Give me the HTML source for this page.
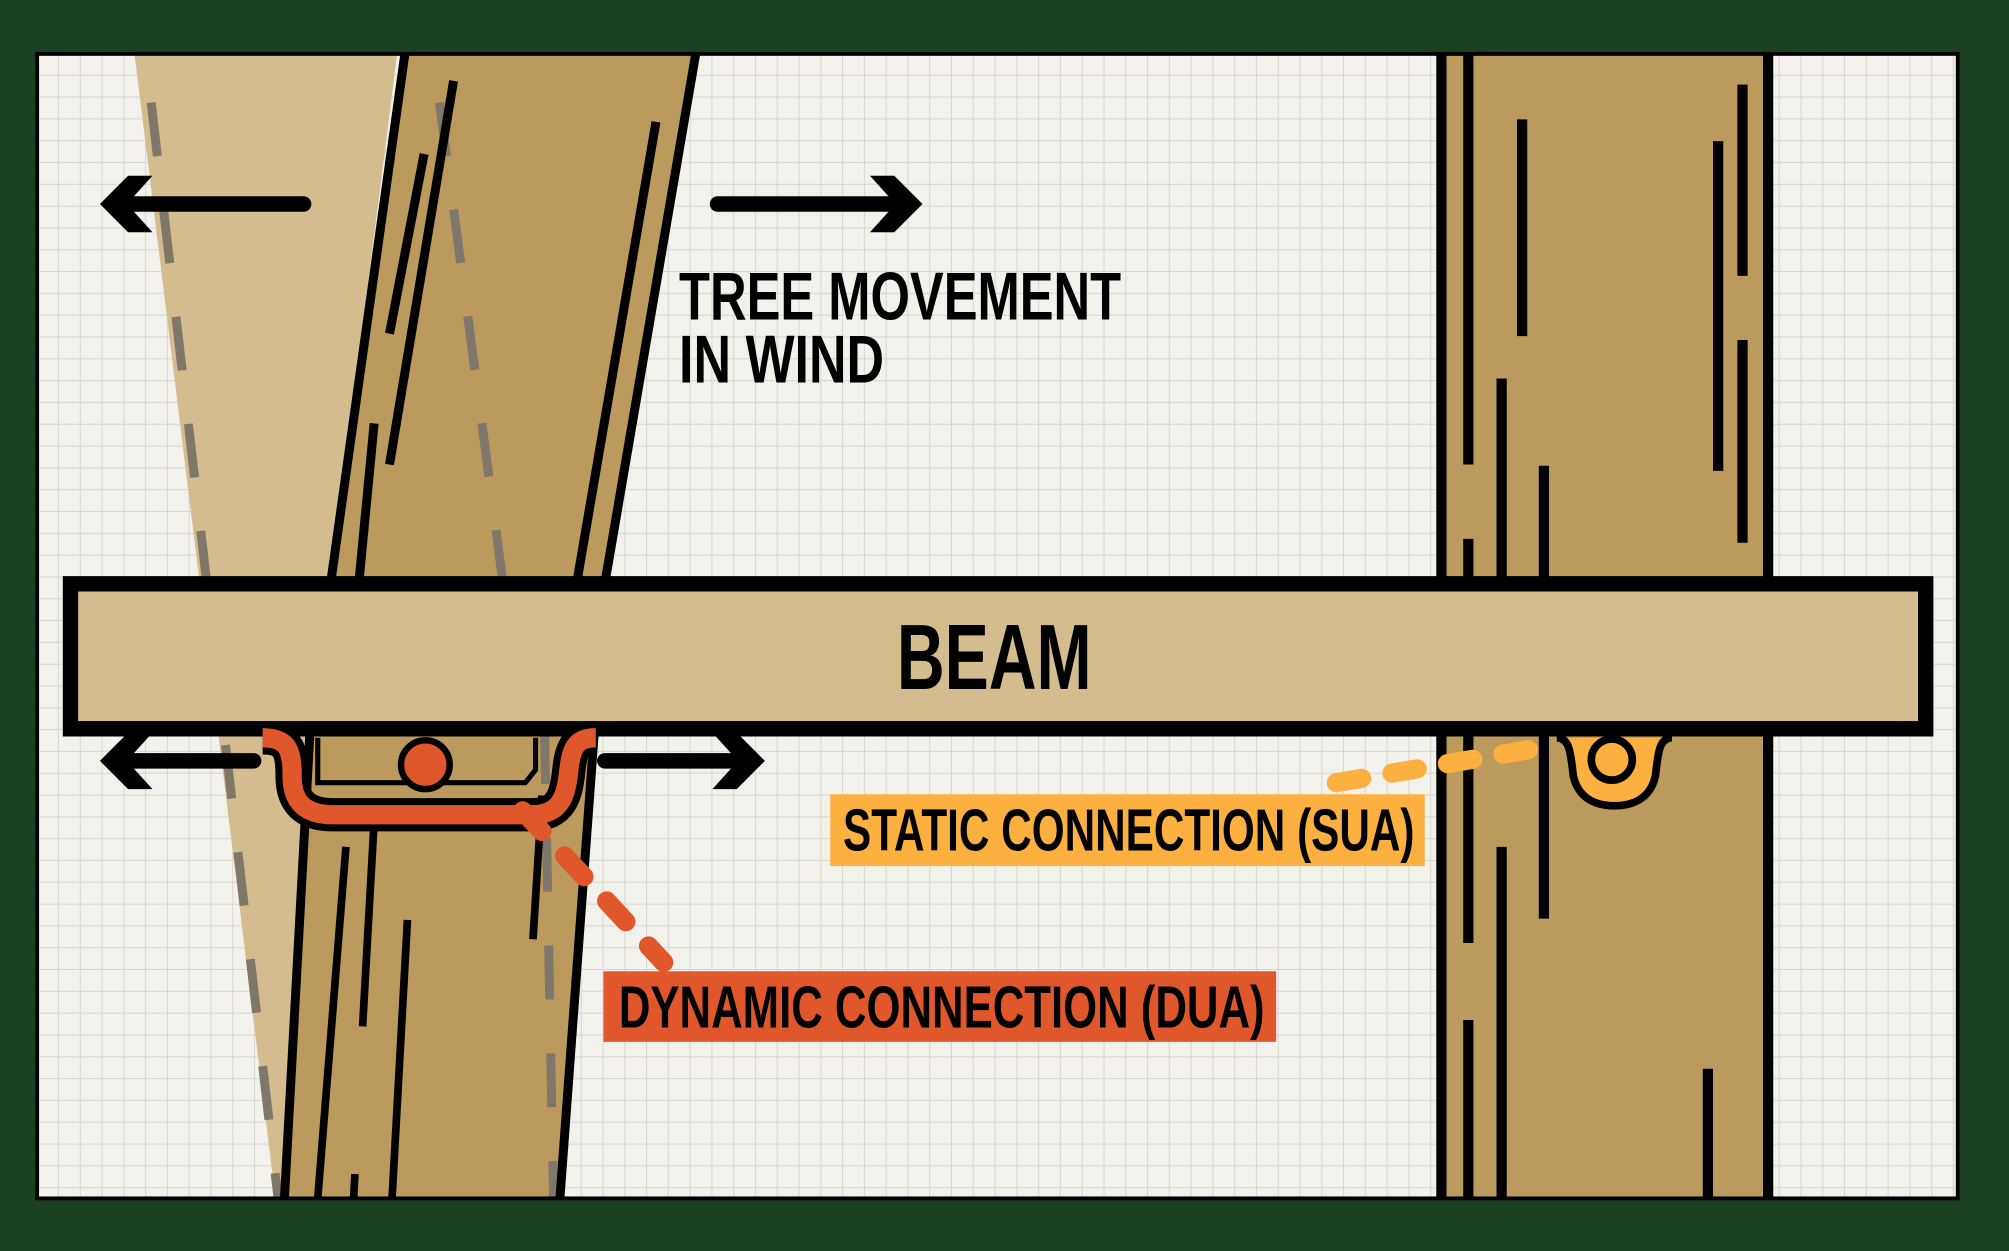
<!DOCTYPE html>
<html><head><meta charset="utf-8"><style>
html,body{margin:0;padding:0;background:#1b4122;}
svg{display:block;}
text{font-family:"Liberation Sans Narrow","Liberation Sans",sans-serif;font-weight:bold;fill:#000;}
</style></head><body>
<svg width="2009" height="1251" viewBox="0 0 1568 975" preserveAspectRatio="none" xmlns="http://www.w3.org/2000/svg">
<defs>
<pattern id="g" width="17" height="17" patternUnits="userSpaceOnUse" x="29" y="42">
<path d="M17 0V17M0 17H17" stroke="#d2d1ca" stroke-width="1.3" fill="none"/>
</pattern>
<clipPath id="c"><rect x="30" y="43" width="1497" height="890"/></clipPath>
</defs>
<rect width="1568" height="975" fill="#1b4122"/>
<rect x="29" y="42" width="1499" height="892" fill="#f2f1ec"/>
<rect x="29" y="42" width="1499" height="892" fill="url(#g)"/>
<g clip-path="url(#c)">
<polygon points="105,42 310,42 258,450 240,934 215,934" fill="#d3bd8e"/>
<line x1="118" y1="80" x2="217" y2="934" stroke="#7f776a" stroke-width="7" stroke-dasharray="42,42"/>
<line x1="343" y1="80" x2="432" y2="934" stroke="#7f776a" stroke-width="7" stroke-dasharray="42,42"/>
<polygon points="316,42 543,42 470,455 258,455" fill="#bc9a5e"/>
<line x1="343" y1="80" x2="392" y2="450" stroke="#7f776a" stroke-width="7" stroke-dasharray="42,42"/>
<line x1="316" y1="42" x2="258" y2="455" stroke="#000" stroke-width="7"/>
<line x1="543" y1="42" x2="472" y2="455" stroke="#000" stroke-width="7"/>
<line x1="354" y1="63" x2="304" y2="362" stroke="#000" stroke-width="7"/>
<line x1="331" y1="120" x2="304" y2="260" stroke="#000" stroke-width="7"/>
<line x1="292" y1="330" x2="280" y2="455" stroke="#000" stroke-width="7"/>
<line x1="512" y1="95" x2="450" y2="455" stroke="#000" stroke-width="7"/>
<polygon points="240,569 464,569 437,934 220,934" fill="#bc9a5e"/>
<line x1="425" y1="569" x2="432" y2="934" stroke="#7f776a" stroke-width="7" stroke-dasharray="42,42"/>
<line x1="242" y1="569" x2="222" y2="934" stroke="#000" stroke-width="7"/>
<line x1="464" y1="569" x2="437" y2="934" stroke="#000" stroke-width="7"/>
<line x1="270" y1="660" x2="248" y2="934" stroke="#000" stroke-width="6"/>
<line x1="292" y1="640" x2="283" y2="800" stroke="#000" stroke-width="6"/>
<line x1="318" y1="717" x2="306" y2="934" stroke="#000" stroke-width="6"/>
<line x1="277" y1="915" x2="276" y2="934" stroke="#000" stroke-width="6"/>
<line x1="423" y1="620" x2="416" y2="732" stroke="#000" stroke-width="6"/>
<rect x="1125" y="42" width="255" height="892" fill="#bc9a5e"/>
<g stroke="#000" stroke-width="8">
<line x1="1125" y1="42" x2="1125" y2="934"/>
<line x1="1380" y1="42" x2="1380" y2="934"/>
<line x1="1146" y1="42" x2="1146" y2="362"/>
<line x1="1146" y1="420" x2="1146" y2="455"/>
<line x1="1188" y1="93" x2="1188" y2="262"/>
<line x1="1172" y1="295" x2="1172" y2="455"/>
<line x1="1205" y1="363" x2="1205" y2="455"/>
<line x1="1360" y1="66" x2="1360" y2="215"/>
<line x1="1341" y1="110" x2="1341" y2="367"/>
<line x1="1360" y1="265" x2="1360" y2="423"/>
<line x1="1146" y1="569" x2="1146" y2="735"/>
<line x1="1205" y1="569" x2="1205" y2="716"/>
<line x1="1172" y1="660" x2="1172" y2="934"/>
<line x1="1146" y1="795" x2="1146" y2="934"/>
<line x1="1333" y1="833" x2="1333" y2="934"/>
</g>
</g>
<rect x="29" y="42" width="1499" height="892" fill="none" stroke="#000" stroke-width="3"/>
<rect x="55" y="455" width="1448" height="113" fill="#d3bd8e" stroke="#000" stroke-width="12"/>
<text x="776" y="537" font-size="72" text-anchor="middle" textLength="152" lengthAdjust="spacingAndGlyphs">BEAM</text>
<g stroke="#000" stroke-width="12" stroke-linecap="round" fill="none">
<line x1="237" y1="159" x2="95" y2="159"/>
<line x1="560" y1="159" x2="705" y2="159"/>
<line x1="198" y1="593" x2="95" y2="593"/>
<line x1="472" y1="593" x2="580" y2="593"/>
</g>
<g fill="#000">
<polygon points="78,159 100,137 119,137 99,159 119,181 100,181"/>
<polygon points="720,159 698,137 679,137 699,159 679,181 698,181"/>
<polygon points="78,593 100,571 119,571 99,593 119,615 100,615"/>
<polygon points="597,593 575,571 556,571 576,593 556,615 575,615"/>
</g>
<text x="530" y="249" font-size="53" textLength="345" lengthAdjust="spacingAndGlyphs">TREE MOVEMENT</text>
<text x="530" y="298" font-size="53" textLength="160" lengthAdjust="spacingAndGlyphs">IN WIND</text>
<path d="M205,575 C225,575 228,585 228,605 C228,625 238,635 260,635 L415,635 C438,635 442,620 444,600 C446,582 450,575 465,575" fill="none" stroke="#000" stroke-width="26"/>
<path d="M205,575 C225,575 228,585 228,605 C228,625 238,635 260,635 L415,635 C438,635 442,620 444,600 C446,582 450,575 465,575" fill="none" stroke="#e0572b" stroke-width="15"/>
<path d="M248,575 L248,610 L410,610 L418,600 L418,575" fill="none" stroke="#000" stroke-width="4"/>
<circle cx="332" cy="596" r="19" fill="#e0572b" stroke="#000" stroke-width="5"/>
<line x1="408" y1="632" x2="518" y2="750" stroke="#e0572b" stroke-width="15" stroke-linecap="round" stroke-dasharray="22,26"/>
<rect x="471" y="757" width="525" height="55" fill="#e0572b"/>
<text x="483" y="801" font-size="46" textLength="504" lengthAdjust="spacingAndGlyphs">DYNAMIC CONNECTION (DUA)</text>
<line x1="1043" y1="610" x2="1195" y2="584" stroke="#fbb040" stroke-width="15" stroke-linecap="round" stroke-dasharray="20,24"/>
<path d="M1215,575 C1226,575 1226,590 1228,605 C1232,622 1245,628 1260,628 C1275,628 1288,622 1292,605 C1294,590 1294,575 1305,575" fill="#fbb040" stroke="#000" stroke-width="6"/>
<circle cx="1258" cy="592" r="16" fill="#fbb040" stroke="#000" stroke-width="6"/>
<rect x="648" y="619" width="464" height="56" fill="#fbb040"/>
<text x="658" y="663" font-size="46" textLength="446" lengthAdjust="spacingAndGlyphs">STATIC CONNECTION (SUA)</text>
</svg>
</body></html>
